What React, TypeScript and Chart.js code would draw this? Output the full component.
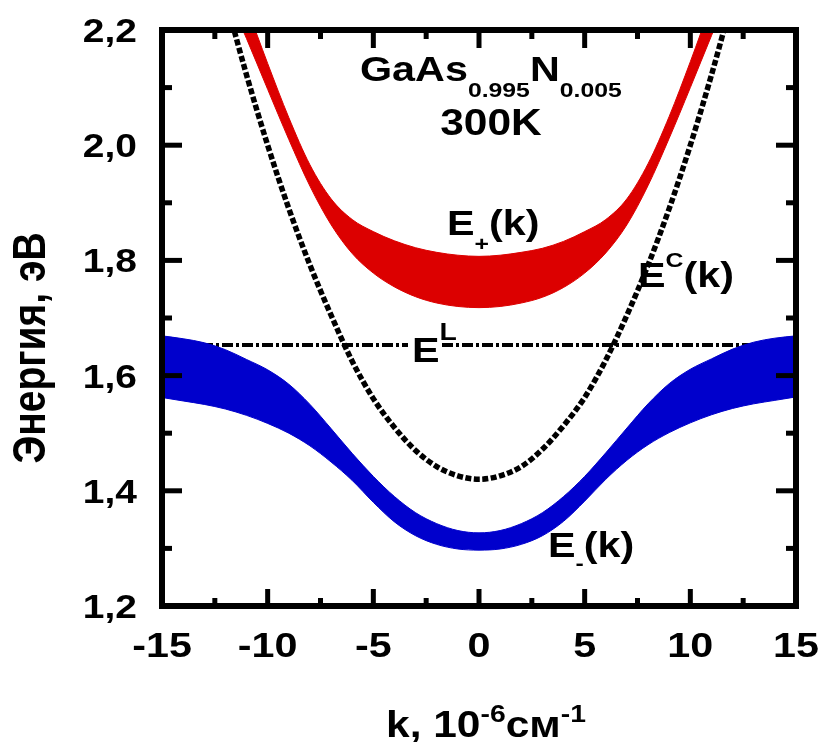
import React, { useEffect, useRef } from "react";
import { Chart, registerables } from "chart.js";

Chart.register(...registerables);

// ---- data ----
const kBlue = [-15, -14, -13, -12, -11, -10, -9, -8, -7, -6, -5, -4, -3, -2, -1, 0, 1, 2, 3, 4, 5, 6, 7, 8, 9, 10, 11, 12, 13, 14, 15];
const eMinusUpper = [1.669, 1.664, 1.657, 1.645, 1.628, 1.610, 1.585, 1.550, 1.508, 1.465, 1.425, 1.390, 1.362, 1.343, 1.331, 1.327, 1.331, 1.343, 1.362, 1.390, 1.425, 1.466, 1.509, 1.551, 1.586, 1.611, 1.629, 1.646, 1.658, 1.665, 1.669];
const eMinusLower = [1.562, 1.556, 1.550, 1.542, 1.531, 1.517, 1.500, 1.478, 1.450, 1.418, 1.380, 1.346, 1.322, 1.307, 1.299, 1.297, 1.299, 1.307, 1.322, 1.347, 1.382, 1.420, 1.453, 1.480, 1.501, 1.518, 1.532, 1.543, 1.551, 1.557, 1.563];

const kRed = [-12, -11, -10, -9, -8, -7, -6, -5, -4, -3, -2, -1, 0, 1, 2, 3, 4, 5, 6, 7, 8, 9, 10, 11, 12];
const ePlusUpper = [2.330, 2.240, 2.142, 2.048, 1.966, 1.907, 1.871, 1.850, 1.834, 1.822, 1.814, 1.809, 1.807, 1.809, 1.814, 1.821, 1.833, 1.850, 1.871, 1.907, 1.968, 2.050, 2.145, 2.245, 2.335];
const ePlusLower = [2.270, 2.185, 2.097, 2.010, 1.929, 1.862, 1.812, 1.778, 1.754, 1.737, 1.726, 1.720, 1.718, 1.720, 1.726, 1.736, 1.753, 1.778, 1.813, 1.862, 1.930, 2.012, 2.100, 2.190, 2.278];

const kC = [-12, -11, -10, -9, -8, -7, -6, -5, -4, -3, -2, -1, 0, 1, 2, 3, 4, 5, 6, 7, 8, 9, 10, 11, 12];
const eC = [2.255, 2.122, 2.000, 1.890, 1.792, 1.705, 1.625, 1.560, 1.510, 1.470, 1.442, 1.426, 1.420, 1.426, 1.442, 1.472, 1.513, 1.562, 1.627, 1.705, 1.792, 1.890, 2.000, 2.122, 2.255];

const kL = [-15, 15];
const eL = [1.653, 1.653];

const xMajorTicks = [-15, -10, -5, 0, 5, 10, 15];
const xTickLabels = ["-15", "-10", "-5", "0", "5", "10", "15"];
const xMinorTicks = [-12.5, -7.5, -2.5, 2.5, 7.5, 12.5];
const yMajorTicks = [1.2, 1.4, 1.6, 1.8, 2.0, 2.2];
const yTickLabels = ["1,2", "1,4", "1,6", "1,8", "2,0", "2,2"];
const yMinorTicks = [1.3, 1.5, 1.7, 1.9, 2.1];

const RED = "#dc0000";
const BLUE = "#0000cc";
const FONT = '"Liberation Sans", Arial, sans-serif';
const SX = 1.18;

type Part = { t: string; size: number; dy: number };

function drawRuns(ctx: CanvasRenderingContext2D, x: number, baseline: number, parts: Part[]) {
  let cx = x;
  for (const p of parts) {
    ctx.font = `bold ${p.size}px ${FONT}`;
    ctx.save();
    ctx.translate(cx, baseline + p.dy);
    ctx.scale(SX, 1);
    ctx.fillText(p.t, 0, 0);
    ctx.restore();
    cx += ctx.measureText(p.t).width * SX;
  }
}

function textWidth(ctx: CanvasRenderingContext2D, t: string, size: number) {
  ctx.font = `bold ${size}px ${FONT}`;
  return ctx.measureText(t).width * SX;
}

const pts = (xs: number[], ys: number[]) => xs.map((x, i) => ({ x, y: ys[i] }));

export default function App() {
  const ref = useRef<HTMLCanvasElement | null>(null);

  useEffect(() => {
    if (!ref.current) return;

    const bgPlugin = {
      id: "bg",
      beforeDraw(chart: any) {
        const c = chart.ctx;
        c.save();
        c.fillStyle = "#ffffff";
        c.fillRect(0, 0, chart.width, chart.height);
        c.restore();
      },
    };

    const decoPlugin = {
      id: "deco",
      afterDraw(chart: any) {
        const c: CanvasRenderingContext2D = chart.ctx;
        const a = chart.chartArea;
        const xs = chart.scales.x;
        const ys = chart.scales.y;
        c.save();
        c.strokeStyle = "#000";
        c.fillStyle = "#000";
        c.lineCap = "butt";

        c.lineWidth = 5;
        const tick = (x1: number, y1: number, x2: number, y2: number) => {
          c.beginPath();
          c.moveTo(x1, y1);
          c.lineTo(x2, y2);
          c.stroke();
        };
        yMajorTicks.forEach((v) => {
          const p = ys.getPixelForValue(v);
          tick(a.left, p, a.left + 20, p);
          tick(a.right, p, a.right - 20, p);
        });
        yMinorTicks.forEach((v) => {
          const p = ys.getPixelForValue(v);
          tick(a.left, p, a.left + 10, p);
          tick(a.right, p, a.right - 10, p);
        });
        xMajorTicks.forEach((v) => {
          const p = xs.getPixelForValue(v);
          tick(p, a.bottom, p, a.bottom - 17);
          tick(p, a.top, p, a.top + 18);
        });
        xMinorTicks.forEach((v) => {
          const p = xs.getPixelForValue(v);
          tick(p, a.bottom, p, a.bottom - 8);
          tick(p, a.top, p, a.top + 9);
        });

        c.lineWidth = 6;
        c.strokeRect(a.left, a.top, a.right - a.left, a.bottom - a.top);

        c.textAlign = "left";
        c.textBaseline = "alphabetic";
        yMajorTicks.forEach((v, i) => {
          const p = ys.getPixelForValue(v);
          const w = textWidth(c, yTickLabels[i], 33);
          drawRuns(c, 137 - w, p + 12, [{ t: yTickLabels[i], size: 33, dy: 0 }]);
        });
        xMajorTicks.forEach((v, i) => {
          const p = xs.getPixelForValue(v);
          const w = textWidth(c, xTickLabels[i], 35);
          drawRuns(c, p - w / 2, 657, [{ t: xTickLabels[i], size: 35, dy: 0 }]);
        });

        drawRuns(c, 386, 737, [
          { t: "k, 10", size: 36, dy: 0 },
          { t: "-6", size: 24, dy: -15 },
          { t: "см", size: 36, dy: 0 },
          { t: "-1", size: 24, dy: -15 },
        ]);
        c.save();
        c.font = `bold 39px ${FONT}`;
        const yt = "Энергия, эВ";
        const yw = c.measureText(yt).width;
        c.translate(45, 348);
        c.scale(SX, 1);
        c.rotate(-Math.PI / 2);
        c.fillText(yt, -yw / 2, 0);
        c.restore();

        drawRuns(c, 360, 81, [
          { t: "GaAs", size: 35, dy: 0 },
          { t: "0.995", size: 21, dy: 16 },
          { t: "N", size: 35, dy: 0 },
          { t: "0.005", size: 21, dy: 16 },
        ]);
        const w300 = textWidth(c, "300K", 36);
        drawRuns(c, 491 - w300 / 2, 135, [{ t: "300K", size: 36, dy: 0 }]);
        drawRuns(c, 447, 235, [
          { t: "E", size: 35, dy: 0 },
          { t: "+", size: 21, dy: 16 },
          { t: "(k)", size: 35, dy: 0 },
        ]);
        drawRuns(c, 638, 287, [
          { t: "E", size: 35, dy: 0 },
          { t: "C", size: 21, dy: -20 },
          { t: "(k)", size: 35, dy: 0 },
        ]);
        c.fillStyle = "#fff";
        c.fillRect(408, 340, 32, 10);
        c.fillStyle = "#000";
        drawRuns(c, 412, 362, [
          { t: "E", size: 35, dy: 0 },
          { t: "L", size: 24, dy: -22 },
        ]);
        drawRuns(c, 548, 557, [
          { t: "E", size: 35, dy: 0 },
          { t: "-", size: 21, dy: 13 },
          { t: "(k)", size: 35, dy: 0 },
        ]);
        c.restore();
      },
    };

    const chart = new Chart(ref.current, {
      type: "line",
      data: {
        datasets: [
          {
            data: pts(kBlue, eMinusUpper),
            borderColor: BLUE,
            backgroundColor: BLUE,
            borderWidth: 1,
            pointRadius: 0,
            fill: "+1",
            cubicInterpolationMode: "monotone",
          },
          {
            data: pts(kBlue, eMinusLower),
            borderColor: BLUE,
            borderWidth: 1,
            pointRadius: 0,
            fill: false,
            cubicInterpolationMode: "monotone",
          },
          {
            data: pts(kRed, ePlusUpper),
            borderColor: RED,
            backgroundColor: RED,
            borderWidth: 1,
            pointRadius: 0,
            fill: "+1",
            cubicInterpolationMode: "monotone",
          },
          {
            data: pts(kRed, ePlusLower),
            borderColor: RED,
            borderWidth: 1,
            pointRadius: 0,
            fill: false,
            cubicInterpolationMode: "monotone",
          },
          {
            data: pts(kC, eC),
            borderColor: "#000",
            borderWidth: 5.5,
            borderDash: [6, 2.5],
            pointRadius: 0,
            fill: false,
            cubicInterpolationMode: "monotone",
          },
          {
            data: pts(kL, eL),
            borderColor: "#000",
            borderWidth: 4,
            borderDash: [11, 3, 3, 3],
            pointRadius: 0,
            fill: false,
          },
        ] as any,
      },
      options: {
        responsive: false,
        animation: false,
        events: [],
        layout: { padding: { top: 30, right: 31, left: 0, bottom: 0 } },
        plugins: { legend: { display: false }, tooltip: { enabled: false } },
        scales: {
          x: {
            type: "linear",
            min: -15,
            max: 15,
            ticks: { display: false },
            grid: { display: false },
            border: { display: false },
            afterFit: (s: any) => {
              s.height = 136;
            },
          },
          y: {
            type: "linear",
            min: 1.2,
            max: 2.2,
            ticks: { display: false },
            grid: { display: false },
            border: { display: false },
            afterFit: (s: any) => {
              s.width = 162;
            },
          },
        },
      } as any,
      plugins: [bgPlugin, decoPlugin],
    });

    return () => chart.destroy();
  }, []);

  return (
    <div style={{ position: "absolute", left: 0, top: 0, width: 827, height: 742, background: "#fff" }}>
      <canvas ref={ref} width={827} height={742} style={{ display: "block", width: 827, height: 742 }} />
    </div>
  );
}
